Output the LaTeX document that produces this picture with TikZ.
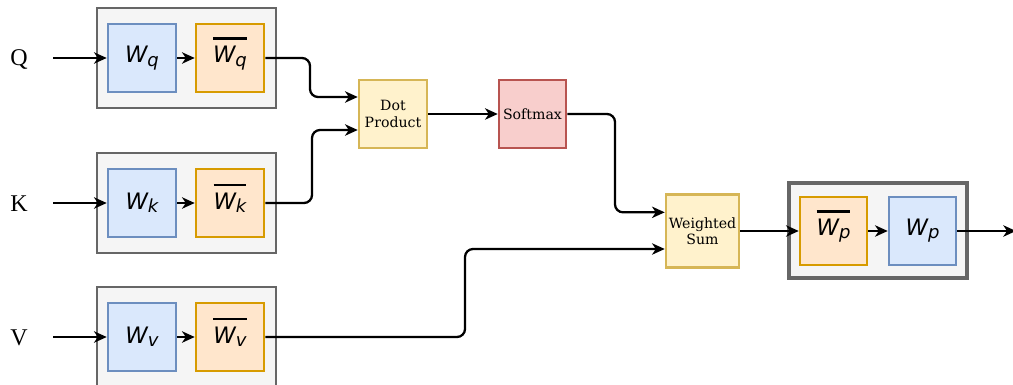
\documentclass[tikz,border=0pt]{standalone}
\usepackage{fontspec}
\usetikzlibrary{arrows.meta}
\newfontfamily\lblfont{Liberation Serif}
\newfontfamily\opfont{DejaVu Serif}
\newfontfamily\symfont{DejaVu Sans}

% weight symbol W with a subscript
\newcommand\wsym[1]{{\fontsize{17}{18}\selectfont\symfont\itshape W\raisebox{-2.4pt}{\fontsize{13.5}{14}\selectfont #1}}}
% the same symbol with a bar drawn above it, without changing its height
\newcommand\wbarsym[1]{\setbox0\hbox{\wsym{#1}}%
  \rlap{\smash{\raise\dimexpr\ht0+5pt\relax\hbox{\vrule width\wd0 height 1.8pt depth 0pt}}}\box0}

\definecolor{grpfill}{HTML}{F5F5F5}
\definecolor{grpline}{HTML}{666666}
\definecolor{wfill}{HTML}{DAE8FC}
\definecolor{wline}{HTML}{6C8EBF}
\definecolor{bfill}{HTML}{FFE6CC}
\definecolor{bline}{HTML}{D79B00}
\definecolor{yfill}{HTML}{FFF2CC}
\definecolor{yline}{HTML}{D6B656}
\definecolor{rfill}{HTML}{F8CECC}
\definecolor{rline}{HTML}{B85450}

\tikzset{
  group/.style={draw=grpline, fill=grpfill, line width=1.8pt, minimum width=134.25pt, minimum height=75pt, inner sep=0pt},
  wbox/.style={draw=wline, fill=wfill, line width=1.9pt, minimum width=51pt, minimum height=51pt, inner sep=0pt},
  bbox/.style={draw=bline, fill=bfill, line width=1.9pt, minimum width=51pt, minimum height=51pt, inner sep=0pt},
  opbox/.style={draw=yline, fill=yfill, line width=1.9pt, minimum width=51pt, minimum height=51pt, inner sep=0pt,
    font=\opfont\fontsize{10.6}{12.2}\selectfont, align=center},
  smbox/.style={draw=rline, fill=rfill, line width=1.9pt, minimum width=50.25pt, minimum height=51pt, inner sep=0pt,
    font=\opfont\fontsize{10.6}{12.2}\selectfont, align=center},
  inlabel/.style={font=\lblfont\fontsize{18}{20}\selectfont, inner sep=0pt},
  conn/.style={line width=1.7pt, -{Stealth[length=9.5pt, width=8.5pt, inset=2.8pt]}, rounded corners=6pt},
}

\begin{document}
\begin{tikzpicture}[x=0.75pt, y=-0.75pt]
  \useasboundingbox (0,0) rectangle (1013,385);
  \clip (0,0) rectangle (1013,385);

  % Q, K, V projection groups
  \node[group] (gq) at (186.5,58) {};
  \node[group] (gk) at (186.5,203) {};
  \node[group] (gv) at (186.5,337) {};

  \node[wbox] (wq) at (142,58) {\wsym{q}};
  \node[bbox] (bq) at (230,58) {\wbarsym{q}};
  \node[wbox] (wk) at (142,203) {\wsym{k}};
  \node[bbox] (bk) at (230,203) {\wbarsym{k}};
  \node[wbox] (wv) at (142,337) {\wsym{v}};
  \node[bbox] (bv) at (230,337) {\wbarsym{v}};

  \node[inlabel] (lq) at (19,59) {Q};
  \node[inlabel] (lk) at (19,204) {K};
  \node[inlabel] (lv) at (19,338) {V};
  \coordinate (qin) at (53,58);
  \coordinate (kin) at (53,203);
  \coordinate (vin) at (53,337);

  % attention operations
  \node[opbox] (dot) at (393,114) {Dot\\Product};
  \node[smbox] (soft) at (532.5,114) {Softmax};
  \node[opbox, minimum width=54.75pt, minimum height=54.75pt] (ws) at (702.5,231) {Weighted\\Sum};

  % output projection group
  \node[group, line width=2.4pt, minimum width=133.5pt, minimum height=71.25pt] (gp) at (878,230.5) {};
  \node[bbox, minimum width=50.25pt] (bp) at (833.5,231) {\wbarsym{p}};
  \node[wbox, minimum width=50.25pt] (wp) at (922.5,231) {\wsym{p}};
  \coordinate (out) at (1016,231);

  % connectors
  \draw[conn] (qin) -- (wq.west);
  \draw[conn] (kin) -- (wk.west);
  \draw[conn] (vin) -- (wv.west);
  \draw[conn] (wq.east) -- (bq.west);
  \draw[conn] (wk.east) -- (bk.west);
  \draw[conn] (wv.east) -- (bv.west);

  \draw[conn] (bq.east) -- (310,58) |- ([yshift=12.75pt]dot.west);
  \draw[conn] (bk.east) -- (312,203) |- ([yshift=-12pt]dot.west);
  \draw[conn] (dot.east) -- (soft.west);
  \draw[conn] (soft.east) -- (615,114) |- ([yshift=14pt]ws.west);
  \draw[conn] (bv.east) -- (465,337) |- ([yshift=-13.5pt]ws.west);
  \draw[conn] (ws.east) -- (bp.west);
  \draw[conn] (bp.east) -- (wp.west);
  \draw[conn] (wp.east) -- (out);
\end{tikzpicture}
\end{document}
